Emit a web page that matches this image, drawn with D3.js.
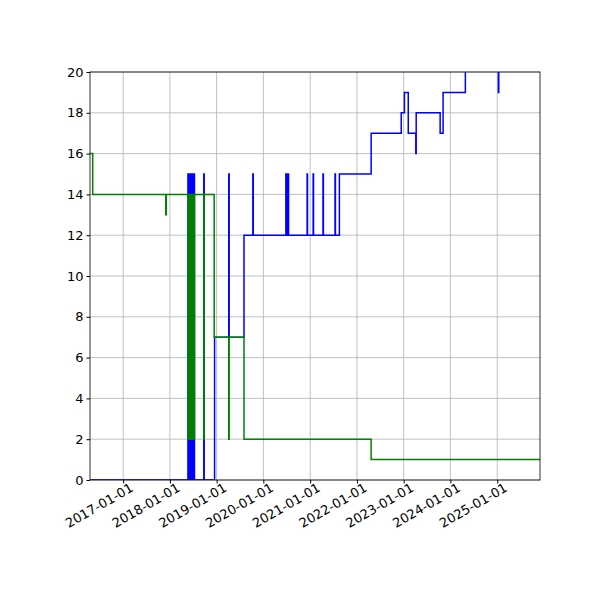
<!DOCTYPE html>
<html><head><meta charset="utf-8">
<script src="https://cdn.jsdelivr.net/npm/d3@7"></script>
<style>body{margin:0;background:#fff}</style></head>
<body><svg id="c" width="600" height="600"></svg>
<script>
const xDomain = ["2016-04-17", "2025-12-01"];
const yTicks = [0,2,4,6,8,10,12,14,16,18,20];
const xTickLabels = ["2017-01-01","2018-01-01","2019-01-01","2020-01-01","2021-01-01","2022-01-01","2023-01-01","2024-01-01","2025-01-01"];

const blueDates = ["2016-04-17","2018-05-22","2018-05-24","2018-05-27","2018-05-30","2018-06-02","2018-06-05","2018-06-08","2018-06-11","2018-06-14","2018-06-18","2018-06-22","2018-06-26","2018-06-30","2018-07-04","2018-07-08","2018-07-12","2018-07-16",
 "2018-09-23","2018-09-26","2018-12-16","2019-04-06","2019-04-09","2019-08-03","2019-10-11","2019-10-14","2020-06-25","2020-06-28","2020-07-04","2020-07-08","2020-07-13","2020-07-16",
 "2020-12-08","2020-12-11","2021-01-24","2021-01-27","2021-04-11","2021-04-14","2021-07-14","2021-07-17","2021-08-17","2022-04-22","2022-12-13","2023-01-07","2023-02-06","2023-04-06","2023-04-09","2023-10-13","2023-11-05","2024-04-27","2025-01-10","2025-01-13","2025-12-01"];
const blueValues = [0,15,0,15,0,15,0,15,0,15,0,15,0,15,0,15,0,0,
 15,0,7,15,7,12,15,12,15,12,15,12,15,12,
 15,12,15,12,15,12,15,12,15,17,18,19,17,16,18,17,19,21,19,21,21];

const greenDates = ["2016-04-17","2016-05-08","2017-11-30","2017-12-04","2018-05-22","2018-05-24","2018-05-27","2018-05-30","2018-06-02","2018-06-05","2018-06-08","2018-06-11","2018-06-14","2018-06-18","2018-06-22","2018-06-26","2018-06-30","2018-07-04","2018-07-08","2018-07-12","2018-07-16",
 "2018-09-23","2018-09-26","2018-12-13","2019-04-06","2019-04-09","2019-08-03","2022-04-22","2025-12-01"];
const greenValues = [16,14,13,14,2,14,2,14,2,14,2,14,2,14,2,14,2,14,2,14,14,
 2,14,7,2,7,2,1,1];

const svg = d3.select("#c");
const m = {l:90, r:540, t:72, b:480};
const p = d3.timeParse("%Y-%m-%d");
const x = d3.scaleUtc().domain(xDomain.map(p)).range([m.l, m.r]);
const y = d3.scaleLinear().domain([0,20]).range([m.b, m.t]);
const font = "DejaVu Sans, sans-serif";

const tickDates = xTickLabels.map(p);
const g = svg.append("g");
g.selectAll(".vg").data(tickDates).join("line")
 .attr("x1", d=>x(d)).attr("x2", d=>x(d)).attr("y1", m.t).attr("y2", m.b)
 .attr("stroke", "#b0b0b0").attr("stroke-width", 0.8);
g.selectAll(".hg").data(yTicks).join("line")
 .attr("x1", m.l).attr("x2", m.r).attr("y1", d=>y(d)).attr("y2", d=>y(d))
 .attr("stroke", "#b0b0b0").attr("stroke-width", 0.8);

svg.append("clipPath").attr("id","clip").append("rect")
 .attr("x", m.l).attr("y", m.t).attr("width", m.r-m.l).attr("height", m.b-m.t);

const line = d3.line().curve(d3.curveStepAfter).x(d=>x(d[0])).y(d=>y(d[1]));
const blue = blueDates.map((d,i)=>[p(d), blueValues[i]]);
const green = greenDates.map((d,i)=>[p(d), greenValues[i]]);
svg.append("path").attr("clip-path","url(#clip)").attr("d", line(blue))
 .attr("fill","none").attr("stroke","blue").attr("stroke-width",1.5);
svg.append("path").attr("clip-path","url(#clip)").attr("d", line(green))
 .attr("fill","none").attr("stroke","green").attr("stroke-width",1.5);

const xa = svg.append("g").attr("transform", `translate(0,${m.b})`)
 .call(d3.axisBottom(x).tickValues(tickDates).tickFormat((d,i)=>xTickLabels[i]).tickSizeOuter(0).tickSize(3.5));
xa.selectAll("text").attr("font-family", font).attr("font-size", 13).attr("fill","#000")
 .attr("text-anchor","end").attr("dx","0.3em").attr("dy","0.6em").attr("transform","rotate(-30)");
const ya = svg.append("g").attr("transform", `translate(${m.l},0)`)
 .call(d3.axisLeft(y).tickValues(yTicks).tickSizeOuter(0).tickSize(3.5));
ya.selectAll("text").attr("font-family", font).attr("font-size", 13).attr("fill","#000");
svg.selectAll(".domain").remove();
svg.append("rect").attr("x", m.l).attr("y", m.t).attr("width", m.r-m.l).attr("height", m.b-m.t)
 .attr("fill","none").attr("stroke","#000").attr("stroke-width",0.8);
</script></body></html>
